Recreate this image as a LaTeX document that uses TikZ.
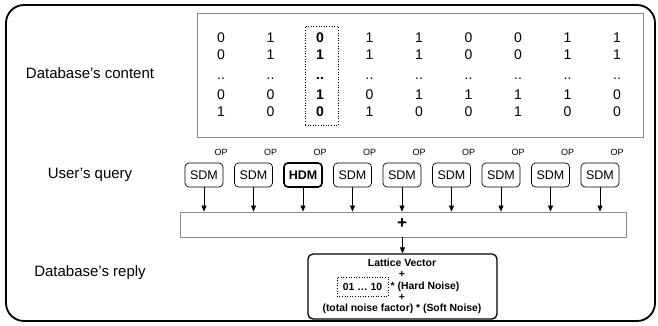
\documentclass[tikz,border=0pt]{standalone}
\usepackage{fontspec}
\setmainfont{Liberation Sans}
\usetikzlibrary{arrows.meta}
\begin{document}
\begin{tikzpicture}[x=1pt,y=-1pt,
  lbl/.style={font=\fontsize{15}{18}\selectfont, inner sep=0pt},
  num/.style={font=\fontsize{14}{16}\selectfont, inner sep=0pt, anchor=base},
  bnum/.style={num, font=\fontsize{14}{16}\selectfont\bfseries},
  opl/.style={font=\fontsize{9}{10}\selectfont, inner sep=0pt},
  dm/.style={draw, rounded corners=4pt, minimum width=38pt, minimum height=24pt, inner sep=0pt, font=\fontsize{12.5}{14}\selectfont, line width=0.7pt},
  hdm/.style={dm, line width=1.6pt, font=\fontsize{12.5}{14}\selectfont\bfseries},
  arr/.style={-{Triangle[length=6pt,width=5pt]}, line width=0.6pt},
  rep/.style={font=\fontsize{10.4}{12}\selectfont\bfseries, inner sep=0pt},
  graybox/.style={draw=black!45, line width=0.9pt, inner sep=0pt},
]
\useasboundingbox (0,0) rectangle (658,325);
\draw[line width=1.8pt, rounded corners=18pt] (6,5) rectangle (655,321);

% labels
\node[lbl] (lcontent) at (90,73) {Database's content};
\node[lbl] (lquery) at (90,175) {User's query};
\node[lbl] (lreply) at (90,273) {Database's reply};

% content box
\node[graybox, minimum width=446pt, minimum height=124pt] (content) at (420,75) {};
\node[draw, dotted, line width=0.6pt, minimum width=33pt, minimum height=99pt, inner sep=0pt] (sel) at (321.5,75.5) {};

% numbers
\foreach \i/\a/\b/\c/\d [count=\k] in {0/0/0/1, 1/1/0/0, 0/1/1/0, 1/1/0/1, 1/1/1/0, 0/0/1/0, 0/0/1/1, 1/1/1/0, 1/1/0/0}{
}
\foreach \a/\b/\c/\d [count=\k] in {0/0/0/1, 1/1/0/0, 0/1/1/0, 1/1/0/1, 1/1/1/0, 0/0/1/0, 0/0/1/1, 1/1/1/0, 1/1/0/0}{
  \pgfmathsetmacro{\xx}{221+49.5*(\k-1)}
  \ifnum\k=3
    \node[bnum] (n\k a) at (\xx,42) {\a};
    \node[bnum] (n\k b) at (\xx,59) {\b};
    \node[bnum] (n\k c) at (\xx,79.5) {..};
    \node[bnum] (n\k d) at (\xx,99) {\c};
    \node[bnum] (n\k e) at (\xx,116) {\d};
  \else
    \node[num] (n\k a) at (\xx,42) {\a};
    \node[num] (n\k b) at (\xx,59) {\b};
    \node[num] (n\k c) at (\xx,79.5) {..};
    \node[num] (n\k d) at (\xx,99) {\c};
    \node[num] (n\k e) at (\xx,116) {\d};
  \fi
  \node[opl] (op\k) at (\xx,152.5) {OP};
}

% sum box
\node[graybox, minimum width=446pt, minimum height=25pt] (sum) at (403,224.5) {};
\node[font=\fontsize{17}{18}\selectfont\bfseries, inner sep=0pt] (plus) at (402,223.5) {+};

% query boxes
\foreach \k in {1,...,9}{
  \pgfmathsetmacro{\xx}{204+49.5*(\k-1)}
  \ifnum\k=3
    \node[hdm] (q\k) at (\xx,175) {HDM};
  \else
    \node[dm] (q\k) at (\xx,175) {SDM};
  \fi
  \draw[arr] (q\k.south) -- (q\k.south |- sum.north);
}

% reply box
\node[draw, line width=1.3pt, rounded corners=5pt, minimum width=189pt, minimum height=65pt, inner sep=0pt] (reply) at (402.5,286.5) {};
\draw[arr] (sum.south -| reply.north) -- (reply.north);

\node[rep] (r1) at (402,263) {Lattice Vector};
\node[rep] (r2) at (402,274.5) {+};
\node[rep, draw, dotted, line width=0.6pt, inner xsep=6pt, minimum height=19pt] (r3a) at (362.5,286.5) {01 … 10};
\node[rep, anchor=west] (r3b) at ([xshift=2pt]r3a.east) {* (Hard Noise)};
\node[rep] (r4) at (402,297) {+};
\node[rep] (r5) at (402,308.5) {(total noise factor) * (Soft Noise)};
\end{tikzpicture}
\end{document}
